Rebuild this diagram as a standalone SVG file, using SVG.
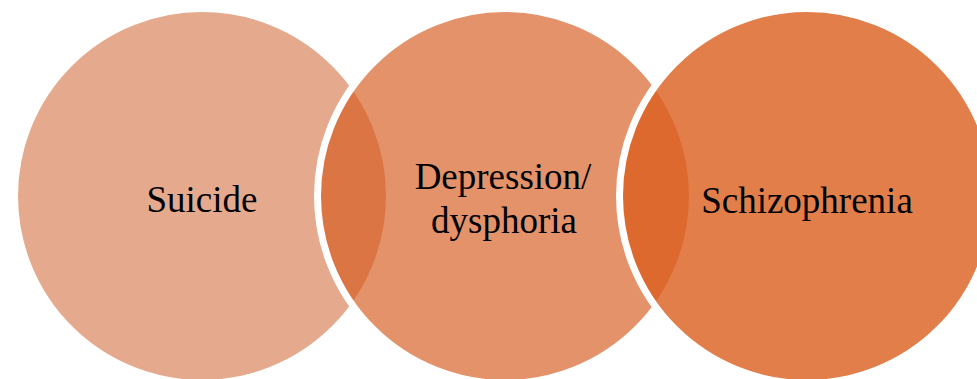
<svg xmlns="http://www.w3.org/2000/svg" width="977" height="379" viewBox="0 0 977 379">
<style>
.c{stroke:#ffffff;stroke-width:7}
.t{font-family:"Liberation Serif","Times New Roman",serif;font-size:37px;fill:#000000;text-anchor:middle}
</style>
<rect width="977" height="379" fill="#ffffff"/>
<g id="node-suicide">
<circle class="c" cx="202" cy="196" r="187.5" fill="#E5AA8D"/>
<text class="t" x="202" y="212">Suicide</text>
</g>
<g id="node-depression">
<circle class="c" cx="505" cy="196" r="187.5" fill="rgb(213,93,33)" fill-opacity="0.67"/>
<text class="t" x="503" y="189">Depression/</text>
<text class="t" x="504" y="233">dysphoria</text>
</g>
<g id="node-schizophrenia">
<circle class="c" cx="807" cy="196" r="187.5" fill="rgb(219,96,32)" fill-opacity="0.81"/>
<text class="t" x="807" y="213">Schizophrenia</text>
</g>
<g id="connectors"></g>
</svg>
